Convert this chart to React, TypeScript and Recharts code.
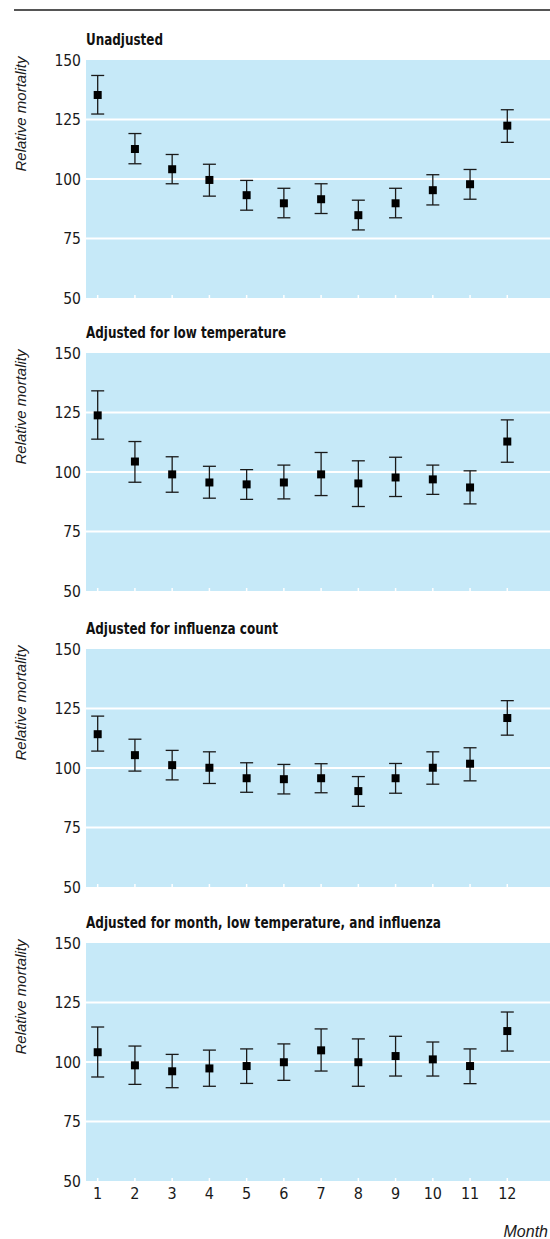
import React from "react";
import { ScatterChart, Scatter, XAxis, YAxis, CartesianGrid, ErrorBar, ReferenceLine } from "recharts";

// month on x, relative mortality (estimate with 95% CI) on y
const months = [1, 2, 3, 4, 5, 6, 7, 8, 9, 10, 11, 12];
const yTicks = [50, 75, 100, 125, 150];
const gridValues = [75, 100, 125];

const unadjustedEst = [135.3, 112.6, 104.1, 99.6, 93.2, 89.8, 91.5, 84.8, 89.8, 95.3, 97.8, 122.4];
const unadjustedLow = [127.3, 106.4, 98.0, 92.8, 86.9, 83.7, 85.5, 78.6, 83.7, 89.1, 91.5, 115.4];
const unadjustedHigh = [143.5, 119.1, 110.3, 106.2, 99.4, 96.1, 98.0, 91.1, 96.1, 101.8, 104.0, 129.1];

const lowTempEst = [123.8, 104.4, 99.0, 95.6, 94.8, 95.6, 99.0, 95.2, 97.7, 96.9, 93.5, 112.8];
const lowTempLow = [113.8, 95.7, 91.5, 89.0, 88.5, 88.7, 90.1, 85.5, 89.7, 90.6, 86.6, 104.1];
const lowTempHigh = [134.1, 112.8, 106.4, 102.4, 101.0, 102.9, 108.2, 104.7, 106.2, 102.9, 100.5, 121.9];

const influenzaEst = [114.2, 105.4, 101.2, 100.1, 95.7, 95.3, 95.7, 90.3, 95.7, 100.1, 101.8, 121.0];
const influenzaLow = [107.1, 98.7, 95.0, 93.5, 89.8, 89.1, 89.6, 83.9, 89.4, 93.2, 94.6, 113.8];
const influenzaHigh = [121.8, 112.1, 107.4, 106.8, 102.2, 101.5, 101.8, 96.4, 101.9, 106.8, 108.5, 128.3];

const allAdjEst = [104.1, 98.6, 96.1, 97.3, 98.3, 99.9, 104.9, 99.9, 102.5, 101.1, 98.3, 113.0];
const allAdjLow = [93.7, 90.6, 89.2, 89.8, 91.0, 92.3, 96.2, 89.8, 94.1, 94.1, 90.9, 104.6];
const allAdjHigh = [114.7, 106.7, 103.2, 105.0, 105.5, 107.6, 113.9, 109.7, 110.8, 108.4, 105.5, 121.0];

const panelTitles = [
    "Unadjusted",
    "Adjusted for low temperature",
    "Adjusted for influenza count",
    "Adjusted for month, low temperature, and influenza",
];

const BG = "#c6e9f8";
const INK = "#1a1a1a";
const NARROW = "'Liberation Sans Narrow', 'Arial Narrow', 'DejaVu Sans Condensed', 'Liberation Sans', sans-serif";
const SANS = "'Liberation Sans', Arial, sans-serif";

const PLOT_H = 238;
const TOP_M = 10;
const X_AXIS_H = 30;
const panelTops = [60, 353, 649, 943];
const titleWidths = [77, 200, 192, 355];

const buildRows = (est: number[], low: number[], high: number[]) =>
    months.map((m, i) => ({
        month: m,
        value: est[i],
        err: [est[i] - low[i], high[i] - est[i]],
    }));

const panels = [
    buildRows(unadjustedEst, unadjustedLow, unadjustedHigh),
    buildRows(lowTempEst, lowTempLow, lowTempHigh),
    buildRows(influenzaEst, influenzaLow, influenzaHigh),
    buildRows(allAdjEst, allAdjLow, allAdjHigh),
];

const Square = (props: any) => {
    const { cx, cy } = props;
    if (cx == null || cy == null) return null;
    return <rect x={cx - 4} y={cy - 4} width={8} height={8} fill="#000" />;
};

const MonthTick = (props: any) => {
    const { x, y, payload, showLabel } = props;
    return (
        <g>
            <line x1={x} x2={x} y1={y} y2={y - 3} stroke="#fff" strokeWidth={1.5} />
            {showLabel && (
                <text x={x} y={y + 18} textAnchor="middle" fontSize={16} fontFamily={NARROW} fill={INK}>
                    {payload.value}
                </text>
            )}
        </g>
    );
};

const Panel: React.FC<{ rows: any[]; top: number; showLabels: boolean }> = ({ rows, top, showLabels }) => (
    <div style={{ position: "absolute", left: 0, top: top - TOP_M }}>
        <ScatterChart width={550} height={TOP_M + PLOT_H + X_AXIS_H} margin={{ top: TOP_M, right: 0, bottom: 0, left: 0 }}>
            <CartesianGrid fill={BG} stroke="none" horizontal={false} vertical={false} />
            <XAxis
                type="number"
                dataKey="month"
                domain={[0.686, 13.147]}
                ticks={months}
                allowDataOverflow
                height={X_AXIS_H}
                axisLine={false}
                tickLine={false}
                tickSize={0}
                tickMargin={0}
                tick={(p: any) => <MonthTick {...p} showLabel={showLabels} />}
            />
            <YAxis
                type="number"
                dataKey="value"
                domain={[50, 150]}
                ticks={yTicks}
                allowDataOverflow
                width={86}
                axisLine={false}
                tickLine={false}
                tickSize={0}
                tickMargin={5}
                tick={{ fontSize: 15.5, fontFamily: NARROW, fill: INK }}
            />
            {gridValues.map(v => (
                <ReferenceLine key={v} y={v} stroke="#fff" strokeWidth={2} />
            ))}
            <Scatter data={rows} shape={<Square />} isAnimationActive={false}>
                <ErrorBar dataKey="err" direction="y" width={6.5} stroke={INK} strokeWidth={1.3} />
            </Scatter>
        </ScatterChart>
    </div>
);

export default function App() {
    return (
        <div style={{ position: "absolute", left: 0, top: 0, width: 550, height: 1239, background: "#fff" }}>
            {panels.map((rows, i) => (
                <Panel key={i} rows={rows} top={panelTops[i]} showLabels={i === panels.length - 1} />
            ))}
            <svg width={550} height={1239} style={{ position: "absolute", left: 0, top: 0, pointerEvents: "none" }}>
                <line x1={14} x2={550} y1={10} y2={10} stroke="#555" strokeWidth={2} />
                {panelTitles.map((t, i) => (
                    <text
                        key={t}
                        x={86}
                        y={panelTops[i] - 15}
                        fontSize={16}
                        fontWeight="bold"
                        fontFamily={NARROW}
                        fill="#111"
                        textLength={titleWidths[i]}
                        lengthAdjust="spacingAndGlyphs"
                    >
                        {t}
                    </text>
                ))}
                {panelTops.map(t => (
                    <text
                        key={t}
                        transform={`translate(26, ${t + 54}) rotate(-90)`}
                        textAnchor="middle"
                        fontSize={15}
                        fontStyle="italic"
                        fontFamily={SANS}
                        fill={INK}
                    >
                        Relative mortality
                    </text>
                ))}
                <text x={548} y={1237} textAnchor="end" fontSize={16} fontStyle="italic" fontFamily={SANS} fill={INK}>
                    Month
                </text>
            </svg>
        </div>
    );
}
